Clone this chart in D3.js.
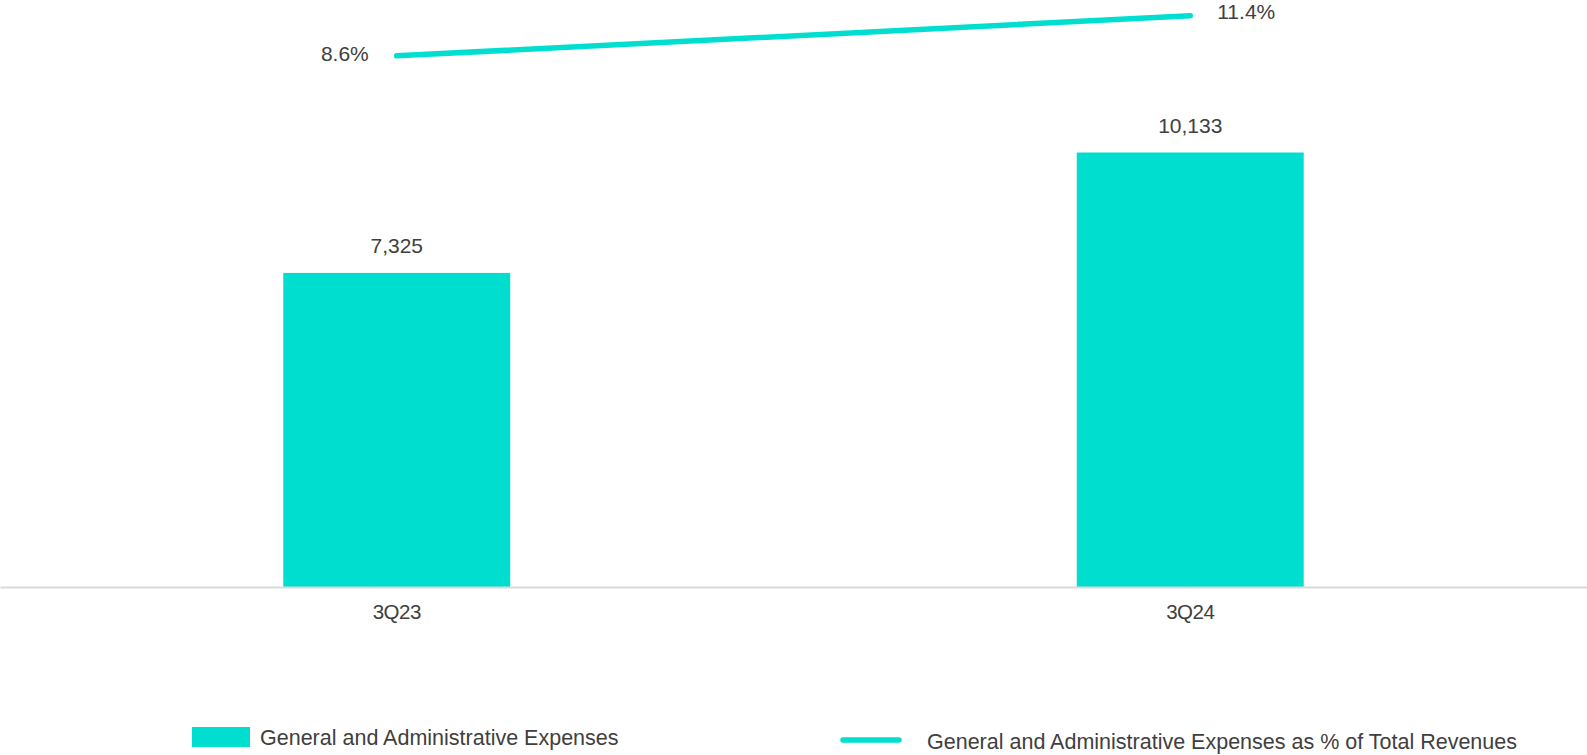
<!DOCTYPE html>
<html>
<head>
<meta charset="utf-8">
<script src="https://cdn.jsdelivr.net/npm/d3@7"></script>
<style>
  html, body { margin: 0; padding: 0; background: #fff; }
  svg { display: block; font-family: "Liberation Sans", Arial, sans-serif; }
</style>
</head>
<body>
<svg id="chart" width="1587" height="755"></svg>
<script>
// Daten
const quarters = ["3Q23", "3Q24"];
const gaExpenses = [7325, 10133];
const gaPctOfRevenue = [0.086, 0.114];
const legendLabels = [
  "General and Administrative Expenses",
  "General and Administrative Expenses as % of Total Revenues"
];

const W = 1587, H = 755;
const teal = "#00dfcf";
const textColor = "#404040";
const baselineY = 587;

const svg = d3.select("#chart");

const x = d3.scaleBand()
  .domain(quarters)
  .range([0, W])
  .paddingInner(0.714)
  .paddingOuter(0.357);

const y = d3.scaleLinear().domain([0, 13690]).range([baselineY, 0]);
const yPct = d3.scaleLinear().domain([0, 0.125]).range([179, 0]);

// Balken
svg.append("g")
  .selectAll("rect")
  .data(quarters)
  .join("rect")
  .attr("x", d => x(d))
  .attr("y", (d, i) => y(gaExpenses[i]))
  .attr("width", x.bandwidth())
  .attr("height", (d, i) => y(0) - y(gaExpenses[i]))
  .attr("fill", teal);

// Werte über den Balken
svg.append("g")
  .selectAll("text")
  .data(quarters)
  .join("text")
  .attr("x", d => x(d) + x.bandwidth() / 2)
  .attr("y", (d, i) => y(gaExpenses[i]) - 20)
  .attr("text-anchor", "middle")
  .attr("font-size", 21)
  .attr("fill", textColor)
  .text((d, i) => d3.format(",")(gaExpenses[i]));

// X-Achse
const axis = svg.append("g")
  .attr("transform", `translate(0,${baselineY})`)
  .call(d3.axisBottom(x).tickSize(0).tickSizeOuter(0).tickPadding(17));
axis.select(".domain").attr("stroke", "#d9d9d9").attr("stroke-width", 2);
axis.selectAll("text")
  .attr("font-size", 20.5)
  .attr("font-family", "'Liberation Sans', Arial, sans-serif")
  .attr("fill", textColor)
  .attr("letter-spacing", -0.5);

// Linie (Anteil an Umsatz)
const line = d3.line()
  .x((d, i) => x(quarters[i]) + x.bandwidth() / 2)
  .y(d => yPct(d));

svg.append("path")
  .datum(gaPctOfRevenue)
  .attr("d", line)
  .attr("fill", "none")
  .attr("stroke", teal)
  .attr("stroke-width", 5.5)
  .attr("stroke-linecap", "round");

svg.append("g")
  .selectAll("text")
  .data(gaPctOfRevenue)
  .join("text")
  .attr("x", (d, i) => x(quarters[i]) + x.bandwidth() / 2 + (i === 0 ? -28 : 27))
  .attr("y", (d, i) => yPct(d) + (i === 0 ? 5 : 3))
  .attr("text-anchor", (d, i) => (i === 0 ? "end" : "start"))
  .attr("font-size", 21)
  .attr("fill", textColor)
  .text(d => d3.format(".1%")(d));

// Legende
const legend = svg.append("g");
legend.append("rect")
  .attr("x", 192).attr("y", 727)
  .attr("width", 58).attr("height", 20)
  .attr("fill", teal);
legend.append("text")
  .attr("x", 260).attr("y", 745)
  .attr("font-size", 21.5)
  .attr("fill", textColor)
  .text(legendLabels[0]);
legend.append("line")
  .attr("x1", 843).attr("x2", 899)
  .attr("y1", 740).attr("y2", 740)
  .attr("stroke", teal)
  .attr("stroke-width", 5.5)
  .attr("stroke-linecap", "round");
legend.append("text")
  .attr("x", 927).attr("y", 749)
  .attr("font-size", 21.5)
  .attr("fill", textColor)
  .text(legendLabels[1]);
</script>
</body>
</html>
